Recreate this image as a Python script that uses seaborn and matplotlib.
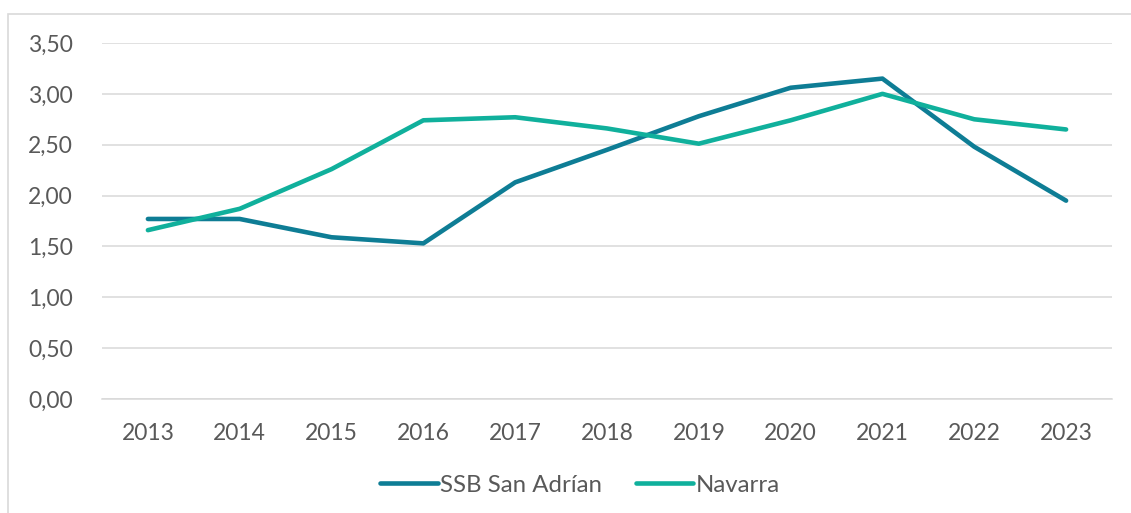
import matplotlib
matplotlib.use("Agg")
import matplotlib.pyplot as plt
import seaborn as sns
import pandas as pd
from matplotlib.patches import Rectangle

years = ["2013", "2014", "2015", "2016", "2017", "2018", "2019", "2020", "2021", "2022", "2023"]
ssb = [1.77, 1.77, 1.59, 1.53, 2.13, 2.45, 2.78, 3.06, 3.15, 2.48, 1.95]
navarra = [1.66, 1.87, 2.26, 2.74, 2.77, 2.66, 2.51, 2.74, 3.00, 2.75, 2.65]
series_names = ["SSB San Adrían", "Navarra"]
yticks = [0, 0.5, 1.0, 1.5, 2.0, 2.5, 3.0, 3.5]

sns.set_style("white")
plt.rcParams['font.family'] = ['Lato', 'DejaVu Sans']

df = pd.DataFrame({
    "year": years * 2,
    "value": ssb + navarra,
    "serie": [series_names[0]] * len(years) + [series_names[1]] * len(years),
})

fig = plt.figure(figsize=(11.31, 5.13), dpi=100)
ax = fig.add_axes([102 / 1131, 114 / 513, 1010 / 1131, 356 / 513])

# outer chart frame
fig.patches.append(Rectangle((8 / 1131, -0.1), 1.2, (513 - 14) / 513 + 0.1,
                             transform=fig.transFigure, fill=False,
                             edgecolor="#d9d9d9", linewidth=1.2))

palette = {series_names[0]: "#0e7d95", series_names[1]: "#10b09c"}
sns.lineplot(data=df, x="year", y="value", hue="serie", palette=palette,
             linewidth=3.3, ax=ax, sort=False, solid_capstyle="round")

ax.set_xlim(-0.5, len(years) - 0.5)
ax.set_ylim(0, 3.5)
ax.set_yticks(yticks)
ax.set_yticklabels([f"{v:.2f}".replace(".", ",") for v in yticks])
ax.yaxis.grid(True, color="#d9d9d9", linewidth=1.1)
ax.set_axisbelow(True)
for s in ["top", "right", "left"]:
    ax.spines[s].set_visible(False)
ax.spines["bottom"].set_color("#d9d9d9")
ax.spines["bottom"].set_linewidth(1.1)
ax.tick_params(axis="both", length=0, labelsize=16.5, labelcolor="#595959")
ax.tick_params(axis="y", pad=21)
ax.tick_params(axis="x", pad=17)
ax.set_xlabel("")
ax.set_ylabel("")

handles, labels = ax.get_legend_handles_labels()
for h in handles:
    h.set_solid_capstyle("round")
ax.legend(handles, labels, loc="center", bbox_to_anchor=(580 / 1131, (513 - 485) / 513),
          bbox_transform=fig.transFigure, ncol=2, frameon=False, fontsize=17.3,
          handlelength=2.4, handletextpad=0.1, columnspacing=1.4, labelcolor="#595959")

fig.savefig("out.png", dpi=100)
